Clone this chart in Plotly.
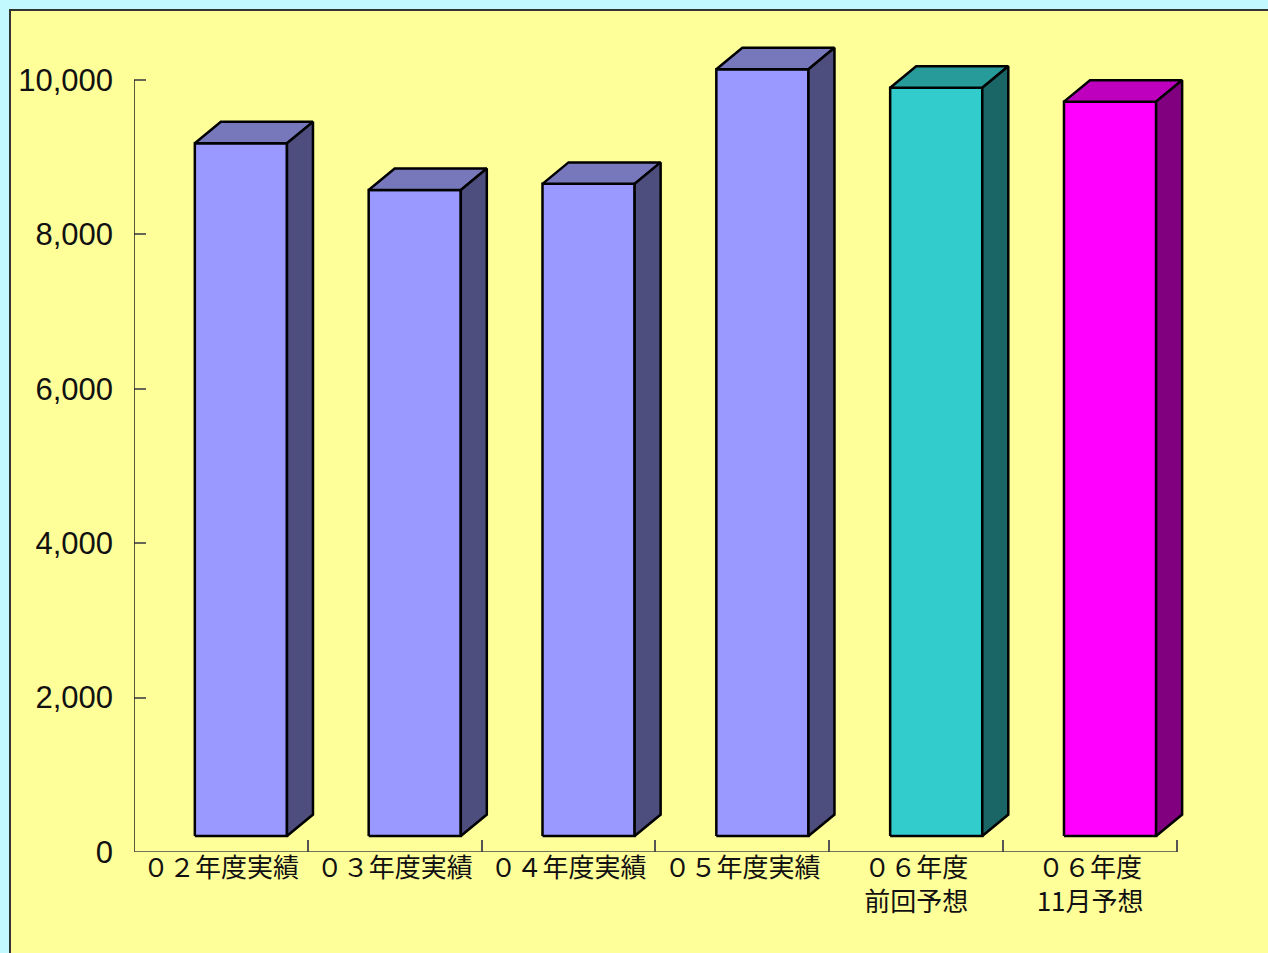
import plotly.graph_objects as go

# ---- data ----
categories = ["０２年度実績", "０３年度実績", "０４年度実績", "０５年度実績",
              "０６年度<br>前回予想", "０６年度<br>11月予想"]
values = [9180, 8575, 8655, 10140, 9900, 9720]
y_tick_vals = [0, 2000, 4000, 6000, 8000, 10000]
y_tick_text = ["0", "2,000", "4,000", "6,000", "8,000", "10,000"]

front_colors = ["#9999FF", "#9999FF", "#9999FF", "#9999FF", "#33CCCC", "#FF00FF"]
top_colors = ["#7777BB", "#7777BB", "#7777BB", "#7777BB", "#279A9A", "#BE00BE"]
side_colors = ["#4D4D7E", "#4D4D7E", "#4D4D7E", "#4D4D7E", "#1A6666", "#800080"]

# ---- geometry (layout constants, data units) ----
FL, FR = -0.150, 0.380   # front face left/right offsets from category centre
DX, DY = 0.1496, 278     # 3D depth offsets
BASE = 207               # bottom of front face
Y_MAX = 10648
ML, MR, MT, MB = 134, 48, 30, 101
PW = 1268 - ML - MR
PH = 953 - MT - MB
X_MAX = -0.5 + PW / 173.83

fig = go.Figure()
for i, v in enumerate(values):
    l, r = i + FL, i + FR
    # front
    fig.add_trace(go.Scatter(x=[l, r, r, l, l], y=[BASE, BASE, v, v, BASE],
                             fill="toself", fillcolor=front_colors[i], mode="lines",
                             line=dict(color="black", width=2.5), hoverinfo="skip"))
    # top
    fig.add_trace(go.Scatter(x=[l, r, r + DX, l + DX, l], y=[v, v, v + DY, v + DY, v],
                             fill="toself", fillcolor=top_colors[i], mode="lines",
                             line=dict(color="black", width=2.5), hoverinfo="skip"))
    # side
    fig.add_trace(go.Scatter(x=[r, r + DX, r + DX, r, r], y=[BASE, BASE + DY, v + DY, v, BASE],
                             fill="toself", fillcolor=side_colors[i], mode="lines",
                             line=dict(color="black", width=2.5), hoverinfo="skip"))

# outer yellow panel
fig.add_shape(type="rect", xref="paper", yref="paper", layer="below",
              x0=(10 - ML) / PW, x1=(1280 - ML) / PW,
              y0=(852 - 965) / PH, y1=(852 - 10) / PH,
              fillcolor="#FFFF99", line=dict(color="#333333", width=2))
# axis lines
fig.add_shape(type="line", xref="x", yref="y", x0=-0.5, x1=-0.5, y0=0, y1=10000,
              line=dict(color="#222222", width=1.5))
fig.add_shape(type="line", xref="x", yref="y", x0=-0.5, x1=5.5, y0=0, y1=0,
              line=dict(color="#444444", width=1.5))

fig.update_layout(
    width=1268, height=953,
    margin=dict(l=ML, r=MR, t=MT, b=MB),
    paper_bgcolor="#C2F9FF",
    plot_bgcolor="rgba(0,0,0,0)",
    showlegend=False,
    xaxis=dict(range=[-0.5, X_MAX], tickmode="array", tickvals=list(range(6)),
               ticktext=categories, ticks="", showgrid=False, zeroline=False,
               showline=False,
               tickfont=dict(family="Noto Sans CJK JP", size=26, color="#111111"),
               ticklabelstandoff=-2,
               minor=dict(tickmode="array", tickvals=[0.5, 1.5, 2.5, 3.5, 4.5, 5.5],
                          ticks="inside", ticklen=12, tickcolor="#555555",
                          tickwidth=1.5, showgrid=False)),
    yaxis=dict(range=[0, Y_MAX], tickmode="array", tickvals=y_tick_vals,
               ticktext=y_tick_text, ticks="inside", ticklen=12, tickcolor="#666655",
               tickwidth=1.5, showgrid=False, zeroline=False, showline=False,
               ticklabelstandoff=20,
               tickfont=dict(family="Liberation Sans", size=31, color="#111111")),
)

fig.write_html("out.html")
